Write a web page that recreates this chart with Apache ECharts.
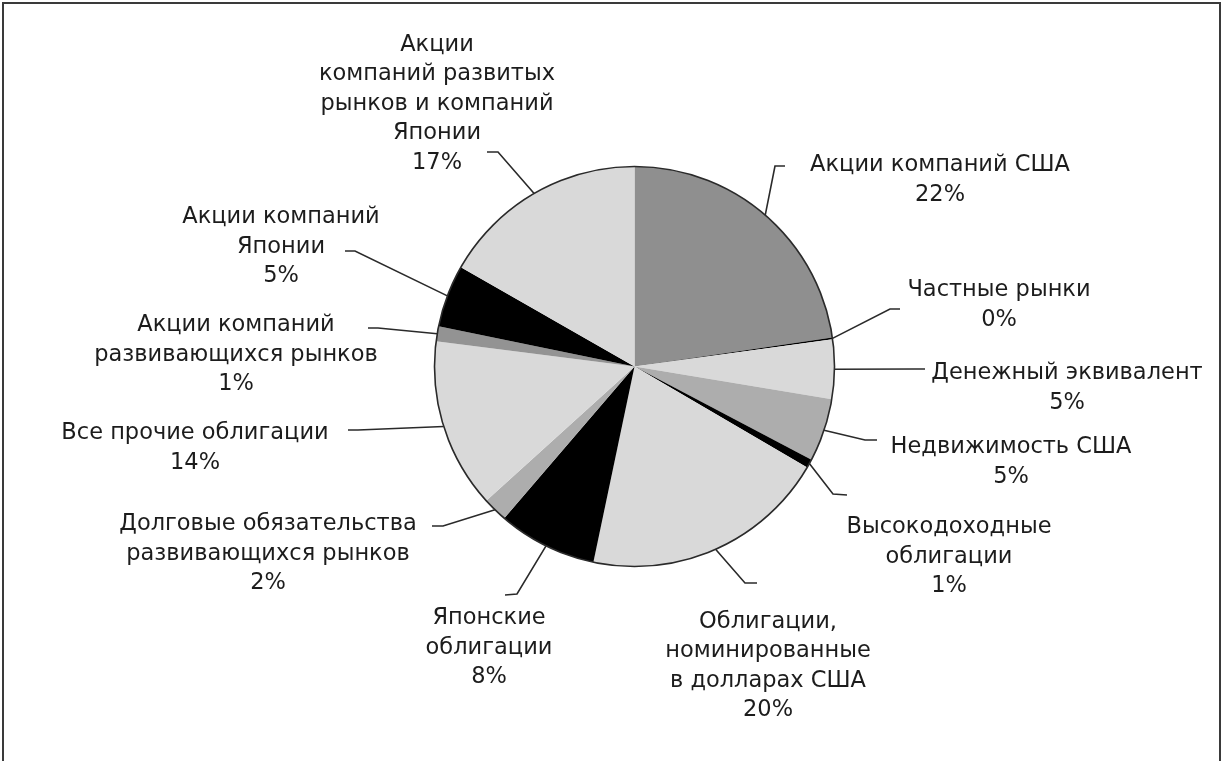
<!DOCTYPE html>
<html>
<head>
<meta charset="utf-8">
<title>Распределение активов</title>
<script src="https://cdn.jsdelivr.net/npm/echarts@6/dist/echarts.min.js"></script>
<style>
    html, body { margin: 0; padding: 0; background: #fff; }
    #frame {
        position: absolute; left: 2px; top: 2px; width: 1215px; height: 780px;
        border: 2px solid #3a3a3a; border-bottom: none;
    }
    #chart { position: absolute; left: 0; top: 0; width: 1225px; height: 761px; }
</style>
</head>
<body>
<div id="frame"></div>
<div id="chart"></div>
<script>
    // данные (по часовой стрелке от 12 часов)
    const categories = [
        'Акции компаний США',
        'Частные рынки',
        'Денежный эквивалент',
        'Недвижимость США',
        'Высокодоходные\nоблигации',
        'Облигации,\nноминированные\nв долларах США',
        'Японские\nоблигации',
        'Долговые обязательства\nразвивающихся рынков',
        'Все прочие облигации',
        'Акции компаний\nразвивающихся рынков',
        'Акции компаний\nЯпонии',
        'Акции\nкомпаний развитых\nрынков и компаний\nЯпонии'
    ]
    const values = [22.7, 0.15, 4.8, 5.1, 0.7, 19.9, 8.0, 2.0, 13.75, 1.2, 5.05, 16.75]
    const shownPct = [22, 0, 5, 5, 1, 20, 8, 2, 14, 1, 5, 17]

    // оформление
    const colors = ['#8f8f8f', '#000000', '#d9d9d9', '#adadad', '#000000', '#d9d9d9',
        '#000000', '#adadad', '#d9d9d9', '#939393', '#000000', '#d9d9d9']
    const CX = 634.5, CY = 366.5, R = 200
    // центр блока подписи
    const labelPos = [[940, 180], [999, 305], [1067, 388], [1011, 462], [949, 557], [768, 666],
        [489, 648], [268, 554], [195, 448], [236, 355], [281, 247], [437, 104]]
    // излом и конец выноски
    const lineBend = [[775, 166], [890, 309], [915, 369], [865, 440], [833, 494], [745, 583],
        [517, 594], [443, 526], [358, 430], [378, 328], [355, 251], [498, 152]]
    const lineEnd = [[785, 166], [900, 309], [925, 369], [877, 440], [847, 495], [757, 583],
        [505, 595], [432, 526], [348, 430], [368, 328], [345, 251], [487, 152]]

    const total = values.reduce((a, b) => a + b, 0)
    function edgePoint(i) {
        let before = 0
        for (let k = 0; k < i; k++) before += values[k]
        const a = (before + values[i] / 2) / total * Math.PI * 2
        return [CX + R * Math.sin(a), CY - R * Math.cos(a)]
    }

    let chart = echarts.init(document.getElementById('chart'))
    chart.setOption({
        animation: false,
        backgroundColor: 'transparent',
        graphic: [{
            type: 'circle',
            shape: { cx: CX, cy: CY, r: R },
            style: { fill: 'none', stroke: '#2a2a2a', lineWidth: 1.6 },
            z: 100,
            silent: true
        }],
        series: [{
            type: 'pie',
            center: [CX, CY],
            radius: R,
            startAngle: 90,
            clockwise: true,
            silent: true,
            avoidLabelOverlap: false,
            itemStyle: { borderWidth: 0 },
            label: {
                show: true,
                position: 'outside',
                fontFamily: 'DejaVu Sans',
                fontSize: 22.5,
                lineHeight: 29.5,
                color: '#1c1c1c',
                formatter: p => p.name + '\n' + shownPct[p.dataIndex] + '%'
            },
            labelLine: {
                show: true,
                length: 20,
                length2: 10,
                lineStyle: { color: '#2a2a2a', width: 1.6 }
            },
            labelLayout: function (params) {
                const i = params.dataIndex
                const start = params.labelLinePoints ? params.labelLinePoints[0] : edgePoint(i)
                return {
                    x: labelPos[i][0],
                    y: labelPos[i][1],
                    align: 'center',
                    verticalAlign: 'middle',
                    labelLinePoints: [start, lineBend[i], lineEnd[i]]
                }
            },
            data: categories.map((name, i) => ({
                name: name,
                value: values[i],
                itemStyle: { color: colors[i] }
            }))
        }]
    })
</script>
</body>
</html>
